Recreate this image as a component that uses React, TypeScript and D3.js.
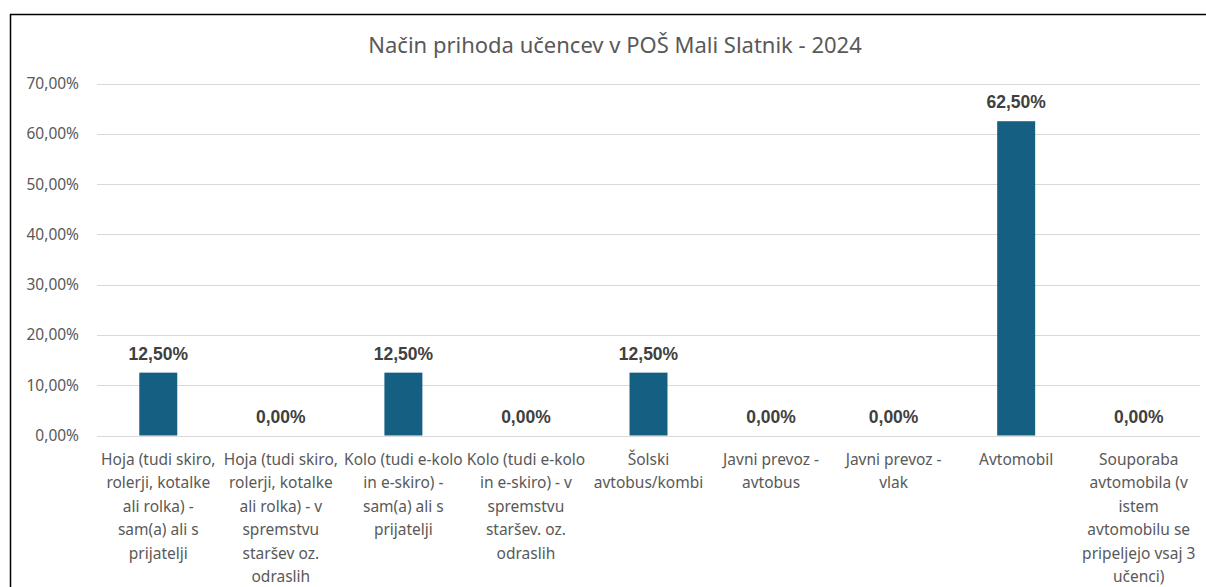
import React, { useEffect, useRef } from "react";
import * as d3 from "d3";

const title = "Način prihoda učencev v POŠ Mali Slatnik - 2024";

// category labels, line breaks as in the original chart
const categories: string[] = [
  "Hoja (tudi skiro,\nrolerji, kotalke\nali rolka) -\nsam(a) ali s\nprijatelji",
  "Hoja (tudi skiro,\nrolerji, kotalke\nali rolka) - v\nspremstvu\nstaršev oz.\nodraslih",
  "Kolo (tudi e-kolo\nin e-skiro) -\nsam(a) ali s\nprijatelji",
  "Kolo (tudi e-kolo\nin e-skiro) - v\nspremstvu\nstaršev. oz.\nodraslih",
  "Šolski\navtobus/kombi",
  "Javni prevoz -\navtobus",
  "Javni prevoz -\nvlak",
  "Avtomobil",
  "Souporaba\navtomobila (v\nistem\navtomobilu se\npripeljejo vsaj 3\nučenci)",
];
const values: number[] = [0.125, 0, 0.125, 0, 0.125, 0, 0, 0.625, 0];
const yTicks: number[] = [0, 0.1, 0.2, 0.3, 0.4, 0.5, 0.6, 0.7];

const fmt = (v: number) => (v * 100).toFixed(2).replace(".", ",") + "%";

export default function App() {
  const ref = useRef<HTMLDivElement | null>(null);

  useEffect(() => {
    if (!ref.current) return;
    document.body.style.margin = "0";
    document.body.style.overflow = "hidden";
    d3.select(ref.current).selectAll("svg").remove();

    const width = 1206;
    const height = 587;
    const left = 97;
    const right = 1200;
    const top = 83.5;
    const bottom = 435.5;

    const svg = d3
      .select(ref.current)
      .append("svg")
      .attr("width", width)
      .attr("height", height)
      .style("display", "block")
      .style("font-family", "'Noto Sans', sans-serif");

    svg.append("rect").attr("width", width).attr("height", height).attr("fill", "#fff");

    // chart frame (runs past the right and bottom edges)
    svg
      .append("rect")
      .attr("x", 10.5)
      .attr("y", 14.5)
      .attr("width", 1210)
      .attr("height", 620)
      .attr("fill", "none")
      .attr("stroke", "#000")
      .attr("stroke-width", 1.5);

    const x = d3.scaleBand<number>().domain(d3.range(categories.length)).range([left, right]).paddingInner(0.69).paddingOuter(0.345);
    const y = d3.scaleLinear().domain([0, 0.7]).range([bottom, top]);

    svg
      .append("text")
      .attr("x", 615)
      .attr("y", 53)
      .attr("text-anchor", "middle")
      .attr("font-size", 22)
      .attr("fill", "#595959")
      .text(title);

    // grid
    svg
      .append("g")
      .selectAll("line")
      .data(yTicks)
      .join("line")
      .attr("x1", left)
      .attr("x2", right)
      .attr("y1", (d) => Math.round(y(d)) + 0.5)
      .attr("y2", (d) => Math.round(y(d)) + 0.5)
      .attr("stroke", "#d9d9d9")
      .attr("stroke-width", 1);

    svg
      .append("g")
      .selectAll("text")
      .data(yTicks)
      .join("text")
      .attr("x", 79)
      .attr("y", (d) => y(d) + 5.5)
      .attr("text-anchor", "end")
      .attr("font-size", 15.5)
      .attr("fill", "#595959")
      .text((d) => fmt(d));

    // bars
    svg
      .append("g")
      .selectAll("rect")
      .data(values)
      .join("rect")
      .attr("x", (_, i) => x(i)!)
      .attr("y", (d) => y(d))
      .attr("width", x.bandwidth())
      .attr("height", (d) => y(0) - y(d))
      .attr("fill", "#156082");

    // data labels
    svg
      .append("g")
      .selectAll("text")
      .data(values)
      .join("text")
      .attr("x", (_, i) => x(i)! + x.bandwidth() / 2)
      .attr("y", (d) => y(d) - 13)
      .attr("text-anchor", "middle")
      .attr("font-family", "'Liberation Sans', Arial, sans-serif")
      .attr("font-size", 17.5)
      .attr("font-weight", "bold")
      .attr("fill", "#404040")
      .text((d) => fmt(d));

    // category labels
    svg
      .append("g")
      .selectAll("text")
      .data(categories)
      .join("text")
      .attr("text-anchor", "middle")
      .attr("font-size", 15.5)
      .attr("fill", "#595959")
      .each(function (d, i) {
        const cx = x(i)! + x.bandwidth() / 2;
        d3.select(this)
          .selectAll("tspan")
          .data(d.split("\n"))
          .join("tspan")
          .attr("x", cx)
          .attr("y", (_, j) => 465 + j * 23.4)
          .text((t) => t);
      });
  }, []);

  return <div ref={ref}></div>;
}
